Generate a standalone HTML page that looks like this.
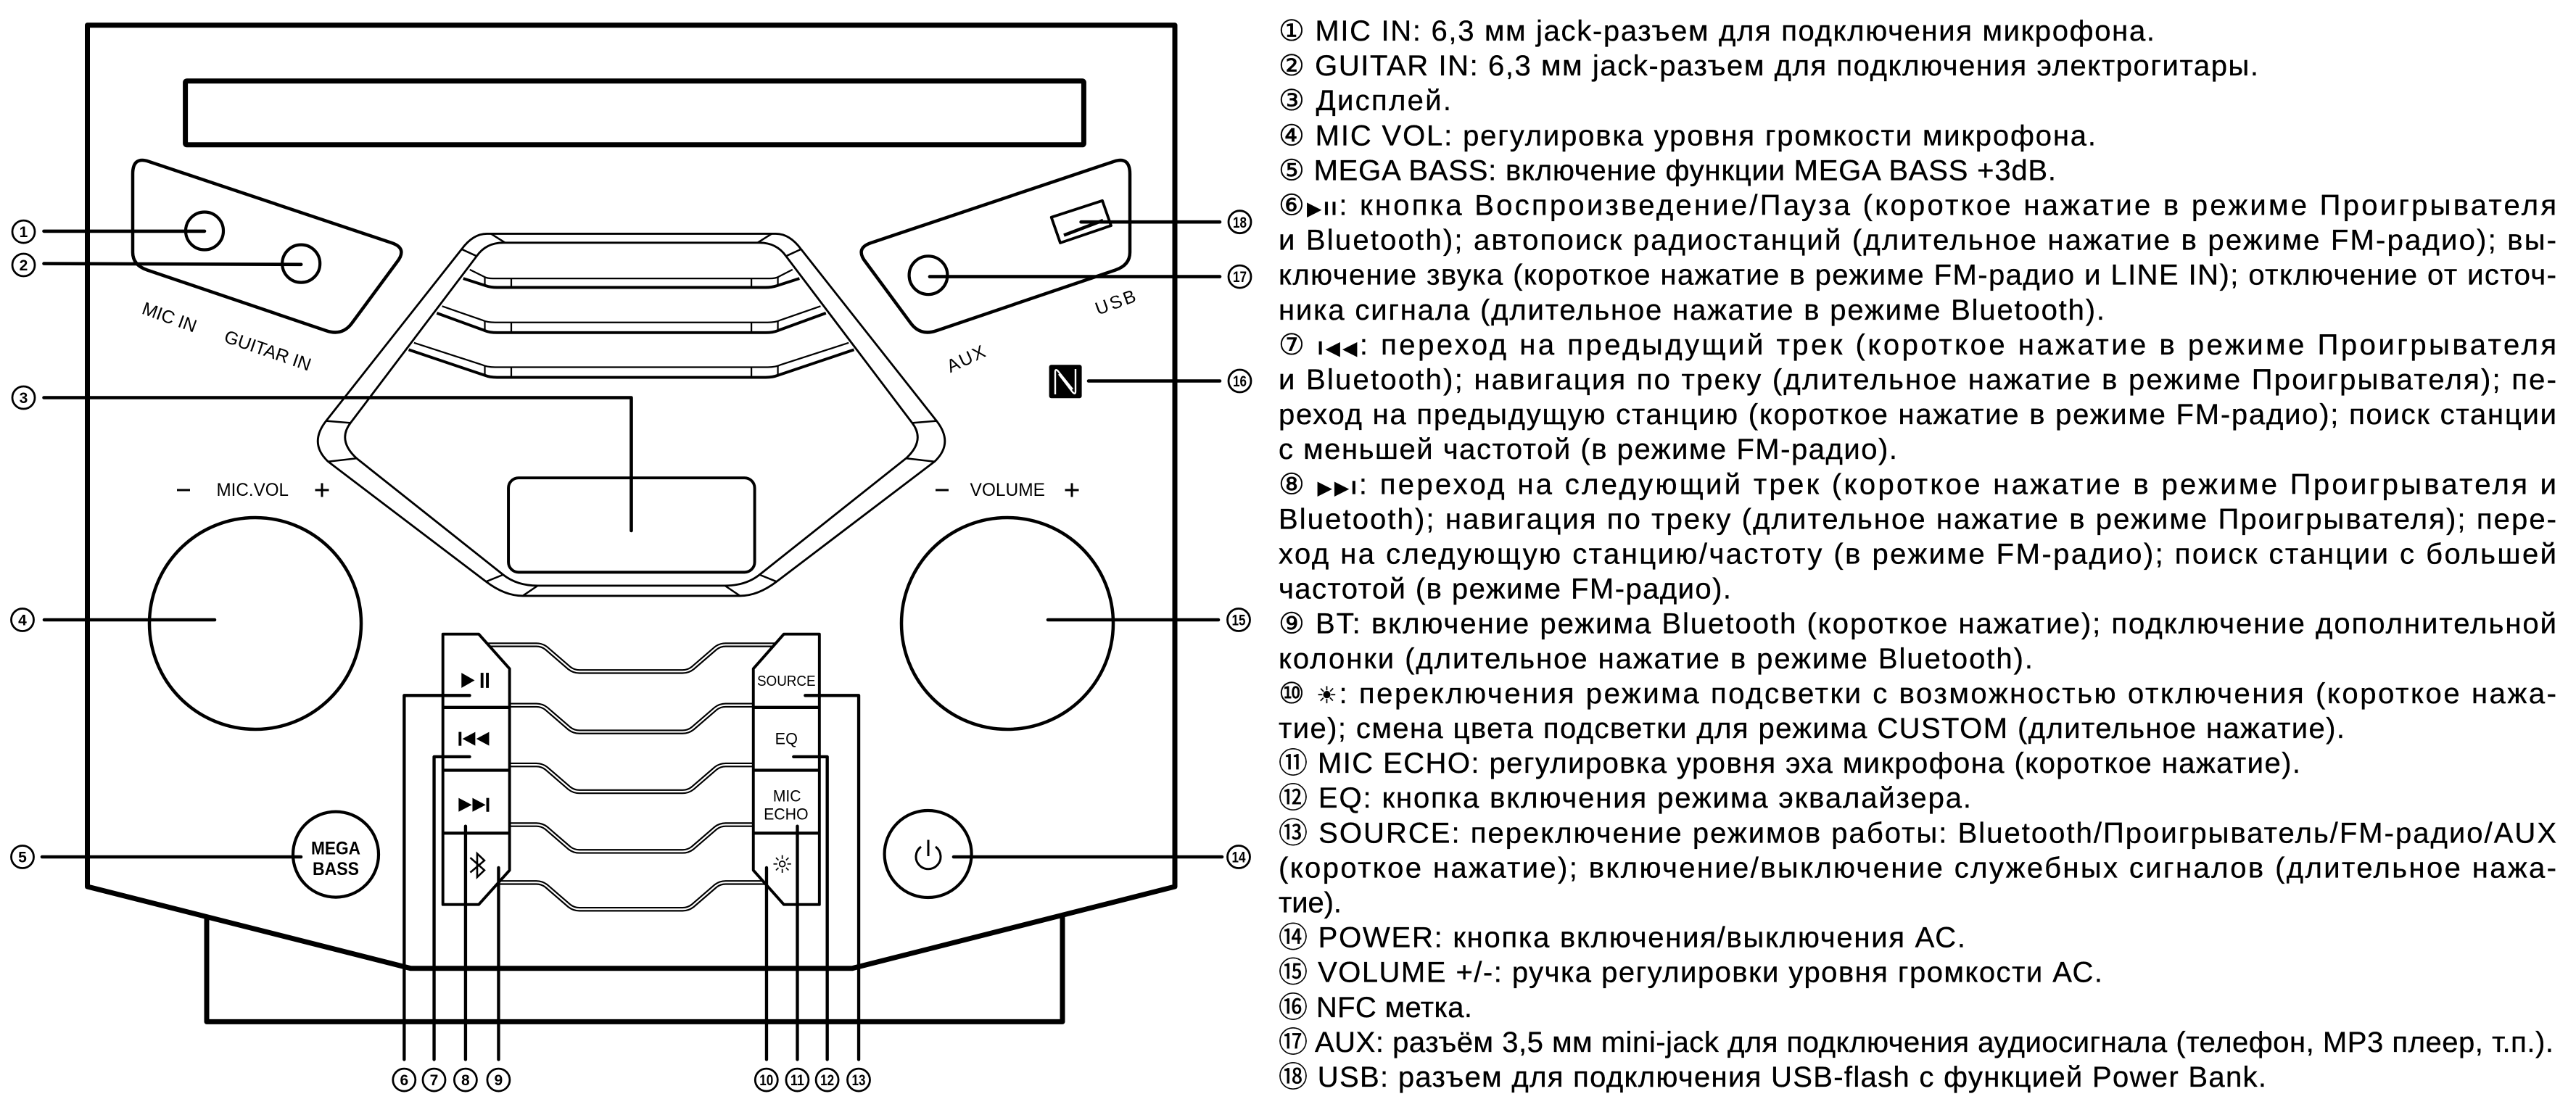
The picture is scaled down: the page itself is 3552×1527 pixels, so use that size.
<!DOCTYPE html>
<html><head><meta charset="utf-8">
<style>
html,body{margin:0;padding:0;background:#fff;}
svg{display:block;}
text{font-family:"Liberation Sans","DejaVu Sans","Noto Sans CJK JP",sans-serif;fill:#000;}
.t{font-size:40px;stroke:#000;stroke-width:0.35px;}
.cnum{font-size:21px;font-weight:bold;text-anchor:middle;}
.lbl{font-size:25px;}
</style></head>
<body>
<svg width="3552" height="1527" viewBox="0 0 3552 1527" xmlns="http://www.w3.org/2000/svg">
<rect width="3552" height="1527" fill="#fff"/>

<!-- outer body -->
<path d="M120.5,1223 L120.5,34.7 L1620,34.7 L1620,1223 L1175.3,1335.7 L566,1335.7 Z" fill="none" stroke="#000" stroke-width="7" stroke-linejoin="round"/>
<path d="M285,1264.6 L285,1409.4 L1465,1409.4 L1465,1264.6" fill="none" stroke="#000" stroke-width="7" stroke-linejoin="round"/>

<!-- display slot -->
<rect x="255.6" y="111.8" width="1238.8" height="88" rx="2" fill="none" stroke="#000" stroke-width="7"/>

<!-- jack panels -->
<path d="M183,240 L183,348 Q183,365.7 203,372.5 L450,456.2 Q471.8,463.6 484.9,446.2 L547,362 Q562.6,342.5 540,335 L205,222.7 Q183,215.3 183,240 Z" fill="none" stroke="#000" stroke-width="4.5"/>
<path d="M183,240 L183,348 Q183,365.7 203,372.5 L450,456.2 Q471.8,463.6 484.9,446.2 L547,362 Q562.6,342.5 540,335 L205,222.7 Q183,215.3 183,240 Z" transform="matrix(-1,0,0,1,1741,0)" fill="none" stroke="#000" stroke-width="4.5"/>

<circle cx="282" cy="318.5" r="26" fill="none" stroke="#000" stroke-width="4.2"/>
<circle cx="415.2" cy="363.6" r="26" fill="none" stroke="#000" stroke-width="4.2"/>
<circle cx="1280" cy="379.7" r="26.4" fill="none" stroke="#000" stroke-width="4.2"/>

<!-- USB port -->
<polygon points="1449.7,299.7 1520,276.8 1532,311.2 1462,335" fill="none" stroke="#000" stroke-width="3.8" stroke-linejoin="round"/>
<line x1="1467" y1="324.5" x2="1521" y2="304" stroke="#000" stroke-width="4.5"/>

<!-- NFC -->
<rect x="1446.6" y="503.3" width="45" height="46" rx="3" fill="#000"/>
<path d="M1455,544 L1455,513 Q1455,508 1459,512 L1479,537 M1483,509 L1483,540 Q1483,545 1479,541 L1460,516" fill="none" stroke="#fff" stroke-width="2.4"/>

<!-- labels rotated -->
<text class="lbl" x="233.5" y="438" text-anchor="middle" dominant-baseline="central" transform="rotate(20 233.5 438)">MIC IN</text>
<text class="lbl" x="369" y="484" text-anchor="middle" dominant-baseline="central" transform="rotate(19 369 484)">GUITAR IN</text>
<text class="lbl" x="1333" y="495" text-anchor="middle" dominant-baseline="central" letter-spacing="2" transform="rotate(-25 1333 495)">AUX</text>
<text class="lbl" x="1539.6" y="417" text-anchor="middle" dominant-baseline="central" letter-spacing="3" transform="rotate(-20 1539.6 417)">USB</text>

<!-- knob labels -->
<line x1="244" y1="676" x2="262" y2="676" stroke="#000" stroke-width="3"/>
<text x="298.5" y="684" font-size="25" textLength="99.5" lengthAdjust="spacingAndGlyphs">MIC.VOL</text>
<line x1="434.5" y1="676" x2="453.5" y2="676" stroke="#000" stroke-width="3"/>
<line x1="444" y1="666.5" x2="444" y2="685.5" stroke="#000" stroke-width="3"/>
<line x1="1290" y1="676" x2="1308" y2="676" stroke="#000" stroke-width="3"/>
<text x="1337.5" y="684" font-size="25" textLength="103.5" lengthAdjust="spacingAndGlyphs">VOLUME</text>
<line x1="1468.5" y1="676" x2="1487.5" y2="676" stroke="#000" stroke-width="3"/>
<line x1="1478" y1="666.5" x2="1478" y2="685.5" stroke="#000" stroke-width="3"/>

<!-- knobs -->
<circle cx="352" cy="860" r="146" fill="none" stroke="#000" stroke-width="4.5"/>
<circle cx="1389" cy="860" r="146" fill="none" stroke="#000" stroke-width="4.5"/>

<!-- MEGA BASS -->
<circle cx="463" cy="1178.6" r="59" fill="none" stroke="#000" stroke-width="4.2"/>
<text x="463" y="1178.6" font-size="25" font-weight="bold" text-anchor="middle" textLength="68" lengthAdjust="spacingAndGlyphs">MEGA</text>
<text x="463" y="1206.8" font-size="25" font-weight="bold" text-anchor="middle" textLength="64" lengthAdjust="spacingAndGlyphs">BASS</text>

<!-- POWER -->
<circle cx="1279.6" cy="1178" r="60" fill="none" stroke="#000" stroke-width="4.2"/>
<path d="M1270,1168 A17,17 0 1 0 1290,1168" fill="none" stroke="#000" stroke-width="3"/>
<line x1="1280" y1="1158.5" x2="1280" y2="1181" stroke="#000" stroke-width="3"/>

<!-- grille -->
<g transform="translate(430,300) scale(0.5612)" fill="none" stroke="#000">
  <path d="M430,40 L1140,40 Q1174,40 1202,78 L1535,500 Q1578,555 1530,600 L1142,895 Q1096,930 1052,930 L518,930 Q474,930 428,895 L40,600 Q-8,555 35,500 L368,78 Q396,40 430,40 Z" stroke-width="5"/>
  <path d="M470,62 L1100,62 Q1142,62 1165,95 L1475,505 Q1508,548 1460,592 L1100,878 Q1066,905 1015,905 L555,905 Q504,905 470,878 L110,592 Q62,548 95,505 L405,95 Q428,62 470,62 Z" stroke-width="5"/>
  <g stroke-width="4.5">
    <line x1="440" y1="40" x2="475" y2="62"/><line x1="1130" y1="40" x2="1095" y2="62"/>
    <line x1="368" y1="78" x2="405" y2="95"/><line x1="1202" y1="78" x2="1165" y2="95"/>
    <line x1="35" y1="500" x2="95" y2="505"/><line x1="1535" y1="500" x2="1475" y2="505"/>
    <line x1="40" y1="600" x2="110" y2="592"/><line x1="1530" y1="600" x2="1460" y2="592"/>
    <line x1="428" y1="895" x2="470" y2="878"/><line x1="1142" y1="895" x2="1100" y2="878"/>
    <line x1="518" y1="930" x2="555" y2="905"/><line x1="1052" y1="930" x2="1015" y2="905"/>
  </g>
  <g stroke-width="4">
    <path d="M388,128 L422,145 Q430,150 445,150 L1125,150 Q1140,150 1148,145 L1181,128"/>
    <path d="M320,218 L418,252 Q430,258 450,258 L1120,258 Q1140,258 1152,252 L1250,218"/>
    <path d="M251,308 L418,362 Q430,368 450,368 L1120,368 Q1140,368 1152,362 L1319,308"/>
    <line x1="425" y1="146" x2="425" y2="168"/><line x1="490" y1="150" x2="490" y2="172"/><line x1="1080" y1="150" x2="1080" y2="172"/><line x1="1145" y1="146" x2="1145" y2="168"/>
    <line x1="425" y1="254" x2="425" y2="279"/><line x1="490" y1="258" x2="490" y2="283"/><line x1="1080" y1="258" x2="1080" y2="283"/><line x1="1145" y1="254" x2="1145" y2="279"/>
    <line x1="425" y1="364" x2="425" y2="389"/><line x1="490" y1="368" x2="490" y2="393"/><line x1="1080" y1="368" x2="1080" y2="393"/><line x1="1145" y1="364" x2="1145" y2="389"/>
  </g>
  <g stroke-width="7">
    <path d="M372,150 L428,168 Q440,172 455,172 L1115,172 Q1130,172 1142,168 L1198,150"/>
    <path d="M307,235 L425,278 Q437,283 455,283 L1115,283 Q1133,283 1145,278 L1263,235"/>
    <path d="M238,325 L425,388 Q437,393 455,393 L1115,393 Q1133,393 1145,388 L1332,325"/>
  </g>
  <rect x="483" y="640" width="605" height="232" rx="25" stroke-width="7"/>
</g>

<!-- button columns -->
<g transform="translate(540,850) scale(0.4337)">
  <g fill="none">
    <g stroke="#000" stroke-width="15">
      <path d="M300,91 L460,91 Q478,91 492,102 L565,165 Q579,176 597,176 L925,176 Q943,176 957,165 L1030,102 Q1044,91 1062,91 L1225,91"/>
      <path d="M370,283 L460,283 Q478,283 492,294 L565,357 Q579,368 597,368 L925,368 Q943,368 957,357 L1030,294 Q1044,283 1062,283 L1155,283"/>
      <path d="M370,473 L460,473 Q478,473 492,484 L565,547 Q579,558 597,558 L925,558 Q943,558 957,547 L1030,484 Q1044,473 1062,473 L1155,473"/>
      <path d="M370,663 L460,663 Q478,663 492,674 L565,737 Q579,748 597,748 L925,748 Q943,748 957,737 L1030,674 Q1044,663 1062,663 L1155,663"/>
      <path d="M335,847 L460,847 Q478,847 492,858 L565,921 Q579,932 597,932 L925,932 Q943,932 957,921 L1030,858 Q1044,847 1062,847 L1190,847"/>
    </g>
    <g stroke="#fff" stroke-width="5">
      <path d="M300,91 L460,91 Q478,91 492,102 L565,165 Q579,176 597,176 L925,176 Q943,176 957,165 L1030,102 Q1044,91 1062,91 L1225,91"/>
      <path d="M370,283 L460,283 Q478,283 492,294 L565,357 Q579,368 597,368 L925,368 Q943,368 957,357 L1030,294 Q1044,283 1062,283 L1155,283"/>
      <path d="M370,473 L460,473 Q478,473 492,484 L565,547 Q579,558 597,558 L925,558 Q943,558 957,547 L1030,484 Q1044,473 1062,473 L1155,473"/>
      <path d="M370,663 L460,663 Q478,663 492,674 L565,737 Q579,748 597,748 L925,748 Q943,748 957,737 L1030,674 Q1044,663 1062,663 L1155,663"/>
      <path d="M335,847 L460,847 Q478,847 492,858 L565,921 Q579,932 597,932 L925,932 Q943,932 957,921 L1030,858 Q1044,847 1062,847 L1190,847"/>
    </g>
  </g>
  <polygon points="163,57 277,57 375,167 375,808 277,917 163,917" fill="#fff" stroke="#000" stroke-width="9" stroke-linejoin="round"/>
  <polygon points="1247,57 1360,57 1360,917 1247,917 1150,808 1150,167" fill="#fff" stroke="#000" stroke-width="9" stroke-linejoin="round"/>
  <g stroke="#000" stroke-width="10">
    <line x1="163" y1="290" x2="375" y2="290"/><line x1="163" y1="490" x2="375" y2="490"/><line x1="163" y1="690" x2="375" y2="690"/>
    <line x1="1150" y1="290" x2="1360" y2="290"/><line x1="1150" y1="490" x2="1360" y2="490"/><line x1="1150" y1="690" x2="1360" y2="690"/>
  </g>
  <polygon points="222,180 264,204 222,228" fill="#000"/>
  <rect x="283" y="180" width="9" height="48" fill="#000"/><rect x="300" y="180" width="9" height="48" fill="#000"/>
  <rect x="213" y="368" width="9" height="44" fill="#000"/>
  <polygon points="266,368 225,390 266,412" fill="#000"/><polygon points="310,368 269,390 310,412" fill="#000"/>
  <polygon points="213,578 255,600 213,622" fill="#000"/><polygon points="257,578 299,600 257,622" fill="#000"/>
  <rect x="301" y="578" width="9" height="44" fill="#000"/>
  <path d="M250,768 L295,808 L272,830 L272,755 L295,777 L250,815" fill="none" stroke="#000" stroke-width="6" stroke-linejoin="miter"/>
  <g stroke="#000" stroke-width="4" fill="none">
    <circle cx="1242" cy="788" r="9"/>
    <line x1="1242" y1="760" x2="1242" y2="772"/><line x1="1242" y1="804" x2="1242" y2="816"/>
    <line x1="1214" y1="788" x2="1226" y2="788"/><line x1="1258" y1="788" x2="1270" y2="788"/>
    <line x1="1222" y1="768" x2="1230" y2="776"/><line x1="1254" y1="800" x2="1262" y2="808"/>
    <line x1="1262" y1="768" x2="1254" y2="776"/><line x1="1230" y1="800" x2="1222" y2="808"/>
  </g>
  <text x="1255" y="221" font-size="46" text-anchor="middle" textLength="186" lengthAdjust="spacingAndGlyphs">SOURCE</text>
  <text x="1255" y="407" font-size="52" text-anchor="middle" textLength="72" lengthAdjust="spacingAndGlyphs">EQ</text>
  <text x="1257" y="589" font-size="52" text-anchor="middle" textLength="89" lengthAdjust="spacingAndGlyphs">MIC</text>
  <text x="1254" y="647" font-size="52" text-anchor="middle" textLength="142" lengthAdjust="spacingAndGlyphs">ECHO</text>
  <g fill="none" stroke="#000" stroke-width="10" stroke-linecap="round" stroke-linejoin="round">
    <path d="M248,252 L40,252 L40,1410"/>
    <path d="M248,447 L135,447 L135,1410"/>
    <path d="M235,668 L235,1410"/>
    <path d="M340,800 L340,1410"/>
    <path d="M1192,800 L1192,1410"/>
    <path d="M1290,668 L1290,1410"/>
    <path d="M1278,447 L1385,447 L1385,1410"/>
    <path d="M1315,252 L1485,252 L1485,1410"/>
  </g>
</g>

<!-- leaders side -->
<g fill="none" stroke="#000" stroke-width="4.6" stroke-linecap="round" stroke-linejoin="round">
  <line x1="60.5" y1="318.9" x2="282" y2="318.9"/>
  <line x1="60.5" y1="363.6" x2="415.2" y2="364.8"/>
  <path d="M60.5,548.5 L870.5,548.5 L870.5,732"/>
  <line x1="61" y1="855" x2="296" y2="855"/>
  <line x1="58" y1="1182" x2="415" y2="1182"/>
  <line x1="1315" y1="1182" x2="1685" y2="1182"/>
  <line x1="1445" y1="855" x2="1680" y2="855"/>
  <line x1="1501" y1="525.5" x2="1682" y2="525.5"/>
  <line x1="1282" y1="381.6" x2="1682" y2="381.6"/>
  <line x1="1490.6" y1="306.2" x2="1682" y2="306.2"/>
</g>

<!-- circled numbers -->
<g fill="#fff" stroke="#000" stroke-width="2.8">
  <circle cx="32.5" cy="319.6" r="15.5"/><circle cx="32.5" cy="365.5" r="15.5"/><circle cx="32.5" cy="548.5" r="15.5"/>
  <circle cx="31" cy="855" r="15.5"/><circle cx="31" cy="1182" r="15.5"/>
  <circle cx="1709.5" cy="306.2" r="15.5"/><circle cx="1709.5" cy="381.6" r="15.5"/><circle cx="1709.5" cy="525.5" r="15.5"/>
  <circle cx="1708" cy="855" r="15.5"/><circle cx="1708" cy="1182" r="15.5"/>
  <circle cx="557.3" cy="1489.6" r="15.5"/><circle cx="598.5" cy="1489.6" r="15.5"/><circle cx="641.9" cy="1489.6" r="15.5"/><circle cx="687.4" cy="1489.6" r="15.5"/>
  <circle cx="1056.8" cy="1489.6" r="15.5"/><circle cx="1099.4" cy="1489.6" r="15.5"/><circle cx="1140.6" cy="1489.6" r="15.5"/><circle cx="1184" cy="1489.6" r="15.5"/>
</g>
<g class="cnum">
  <text class="cnum" x="32.5" y="327.2">1</text>
  <text class="cnum" x="32.5" y="373.1">2</text>
  <text class="cnum" x="32.5" y="556.1">3</text>
  <text class="cnum" x="31" y="862.6">4</text>
  <text class="cnum" x="31" y="1189.6">5</text>
  <text class="cnum" x="1709.5" y="313.8" textLength="19" lengthAdjust="spacingAndGlyphs">18</text>
  <text class="cnum" x="1709.5" y="389.2" textLength="19" lengthAdjust="spacingAndGlyphs">17</text>
  <text class="cnum" x="1709.5" y="533.1" textLength="19" lengthAdjust="spacingAndGlyphs">16</text>
  <text class="cnum" x="1708" y="862.6" textLength="19" lengthAdjust="spacingAndGlyphs">15</text>
  <text class="cnum" x="1708" y="1189.6" textLength="19" lengthAdjust="spacingAndGlyphs">14</text>
  <text class="cnum" x="557.3" y="1497.2">6</text>
  <text class="cnum" x="598.5" y="1497.2">7</text>
  <text class="cnum" x="641.9" y="1497.2">8</text>
  <text class="cnum" x="687.4" y="1497.2">9</text>
  <text class="cnum" x="1056.8" y="1497.2" textLength="19" lengthAdjust="spacingAndGlyphs">10</text>
  <text class="cnum" x="1099.4" y="1497.2" textLength="19" lengthAdjust="spacingAndGlyphs">11</text>
  <text class="cnum" x="1140.6" y="1497.2" textLength="19" lengthAdjust="spacingAndGlyphs">12</text>
  <text class="cnum" x="1184" y="1497.2" textLength="19" lengthAdjust="spacingAndGlyphs">13</text>
</g>

<!-- description text -->
<g>
<text class="t" x="1763" y="56" textLength="1208" lengthAdjust="spacing">① MIC IN: 6,3 мм jack-разъем для подключения микрофона.</text>
<text class="t" x="1763" y="104.1" textLength="1351" lengthAdjust="spacing">② GUITAR IN: 6,3 мм jack-разъем для подключения электрогитары.</text>
<text class="t" x="1763" y="152.2" textLength="238" lengthAdjust="spacing">③ Дисплей.</text>
<text class="t" x="1763" y="200.3" textLength="1127" lengthAdjust="spacing">④ MIC VOL: регулировка уровня громкости микрофона.</text>
<text class="t" x="1763" y="248.4" textLength="1072" lengthAdjust="spacing">⑤ MEGA BASS: включение функции MEGA BASS +3dB.</text>
<text class="t" x="1763" y="296.5" textLength="1762" lengthAdjust="spacing">⑥<tspan font-size="26" font-weight="bold">▶II</tspan>: кнопка Воспроизведение/Пауза (короткое нажатие в режиме Проигрывателя</text>
<text class="t" x="1763" y="344.6" textLength="1762" lengthAdjust="spacing">и Bluetooth); автопоиск радиостанций (длительное нажатие в режиме FM-радио); вы-</text>
<text class="t" x="1763" y="392.7" textLength="1762" lengthAdjust="spacing">ключение звука (короткое нажатие в режиме FM-радио и LINE IN); отключение от источ-</text>
<text class="t" x="1763" y="440.8" textLength="1139" lengthAdjust="spacing">ника сигнала (длительное нажатие в режиме Bluetooth).</text>
<text class="t" x="1763" y="488.9" textLength="1762" lengthAdjust="spacing">⑦ <tspan font-size="26" font-weight="bold">I◀◀</tspan>: переход на предыдущий трек (короткое нажатие в режиме Проигрывателя</text>
<text class="t" x="1763" y="537" textLength="1762" lengthAdjust="spacing">и Bluetooth); навигация по треку (длительное нажатие в режиме Проигрывателя); пе-</text>
<text class="t" x="1763" y="585.1" textLength="1762" lengthAdjust="spacing">реход на предыдущую станцию (короткое нажатие в режиме FM-радио); поиск станции</text>
<text class="t" x="1763" y="633.2" textLength="853" lengthAdjust="spacing">с меньшей частотой (в режиме FM-радио).</text>
<text class="t" x="1763" y="681.3" textLength="1762" lengthAdjust="spacing">⑧ <tspan font-size="26" font-weight="bold">▶▶I</tspan>: переход на следующий трек (короткое нажатие в режиме Проигрывателя и</text>
<text class="t" x="1763" y="729.4" textLength="1762" lengthAdjust="spacing">Bluetooth); навигация по треку (длительное нажатие в режиме Проигрывателя); пере-</text>
<text class="t" x="1763" y="777.5" textLength="1762" lengthAdjust="spacing">ход на следующую станцию/частоту (в режиме FM-радио); поиск станции с большей</text>
<text class="t" x="1763" y="825.6" textLength="624" lengthAdjust="spacing">частотой (в режиме FM-радио).</text>
<text class="t" x="1763" y="873.7" textLength="1762" lengthAdjust="spacing">⑨ BT: включение режима Bluetooth (короткое нажатие); подключение дополнительной</text>
<text class="t" x="1763" y="921.8" textLength="1040" lengthAdjust="spacing">колонки (длительное нажатие в режиме Bluetooth).</text>
<text class="t" x="1763" y="969.9" textLength="1762" lengthAdjust="spacing">⑩ <tspan font-size="32">☀</tspan>: переключения режима подсветки с возможностью отключения (короткое нажа-</text>
<text class="t" x="1763" y="1018" textLength="1470" lengthAdjust="spacing">тие); смена цвета подсветки для режима CUSTOM (длительное нажатие).</text>
<text class="t" x="1763" y="1066.1" textLength="1409" lengthAdjust="spacing">⑪ MIC ECHO: регулировка уровня эха микрофона (короткое нажатие).</text>
<text class="t" x="1763" y="1114.2" textLength="955" lengthAdjust="spacing">⑫ EQ: кнопка включения режима эквалайзера.</text>
<text class="t" x="1763" y="1162.3" textLength="1762" lengthAdjust="spacing">⑬ SOURCE: переключение режимов работы: Bluetooth/Проигрыватель/FM-радио/AUX</text>
<text class="t" x="1763" y="1210.4" textLength="1762" lengthAdjust="spacing">(короткое нажатие); включение/выключение служебных сигналов (длительное нажа-</text>
<text class="t" x="1763" y="1258.5" textLength="87" lengthAdjust="spacing">тие).</text>
<text class="t" x="1763" y="1306.6" textLength="947" lengthAdjust="spacing">⑭ POWER: кнопка включения/выключения АС.</text>
<text class="t" x="1763" y="1354.7" textLength="1136" lengthAdjust="spacing">⑮ VOLUME +/-: ручка регулировки уровня громкости АС.</text>
<text class="t" x="1763" y="1402.8" textLength="267" lengthAdjust="spacing">⑯ NFC метка.</text>
<text class="t" x="1763" y="1450.9" textLength="1758" lengthAdjust="spacing">⑰ AUX: разъём 3,5 мм mini-jack для подключения аудиосигнала (телефон, MP3 плеер, т.п.).</text>
<text class="t" x="1763" y="1499" textLength="1362" lengthAdjust="spacing">⑱ USB: разъем для подключения USB-flash с функцией Power Bank.</text>
</g>
</svg>
</body></html>
